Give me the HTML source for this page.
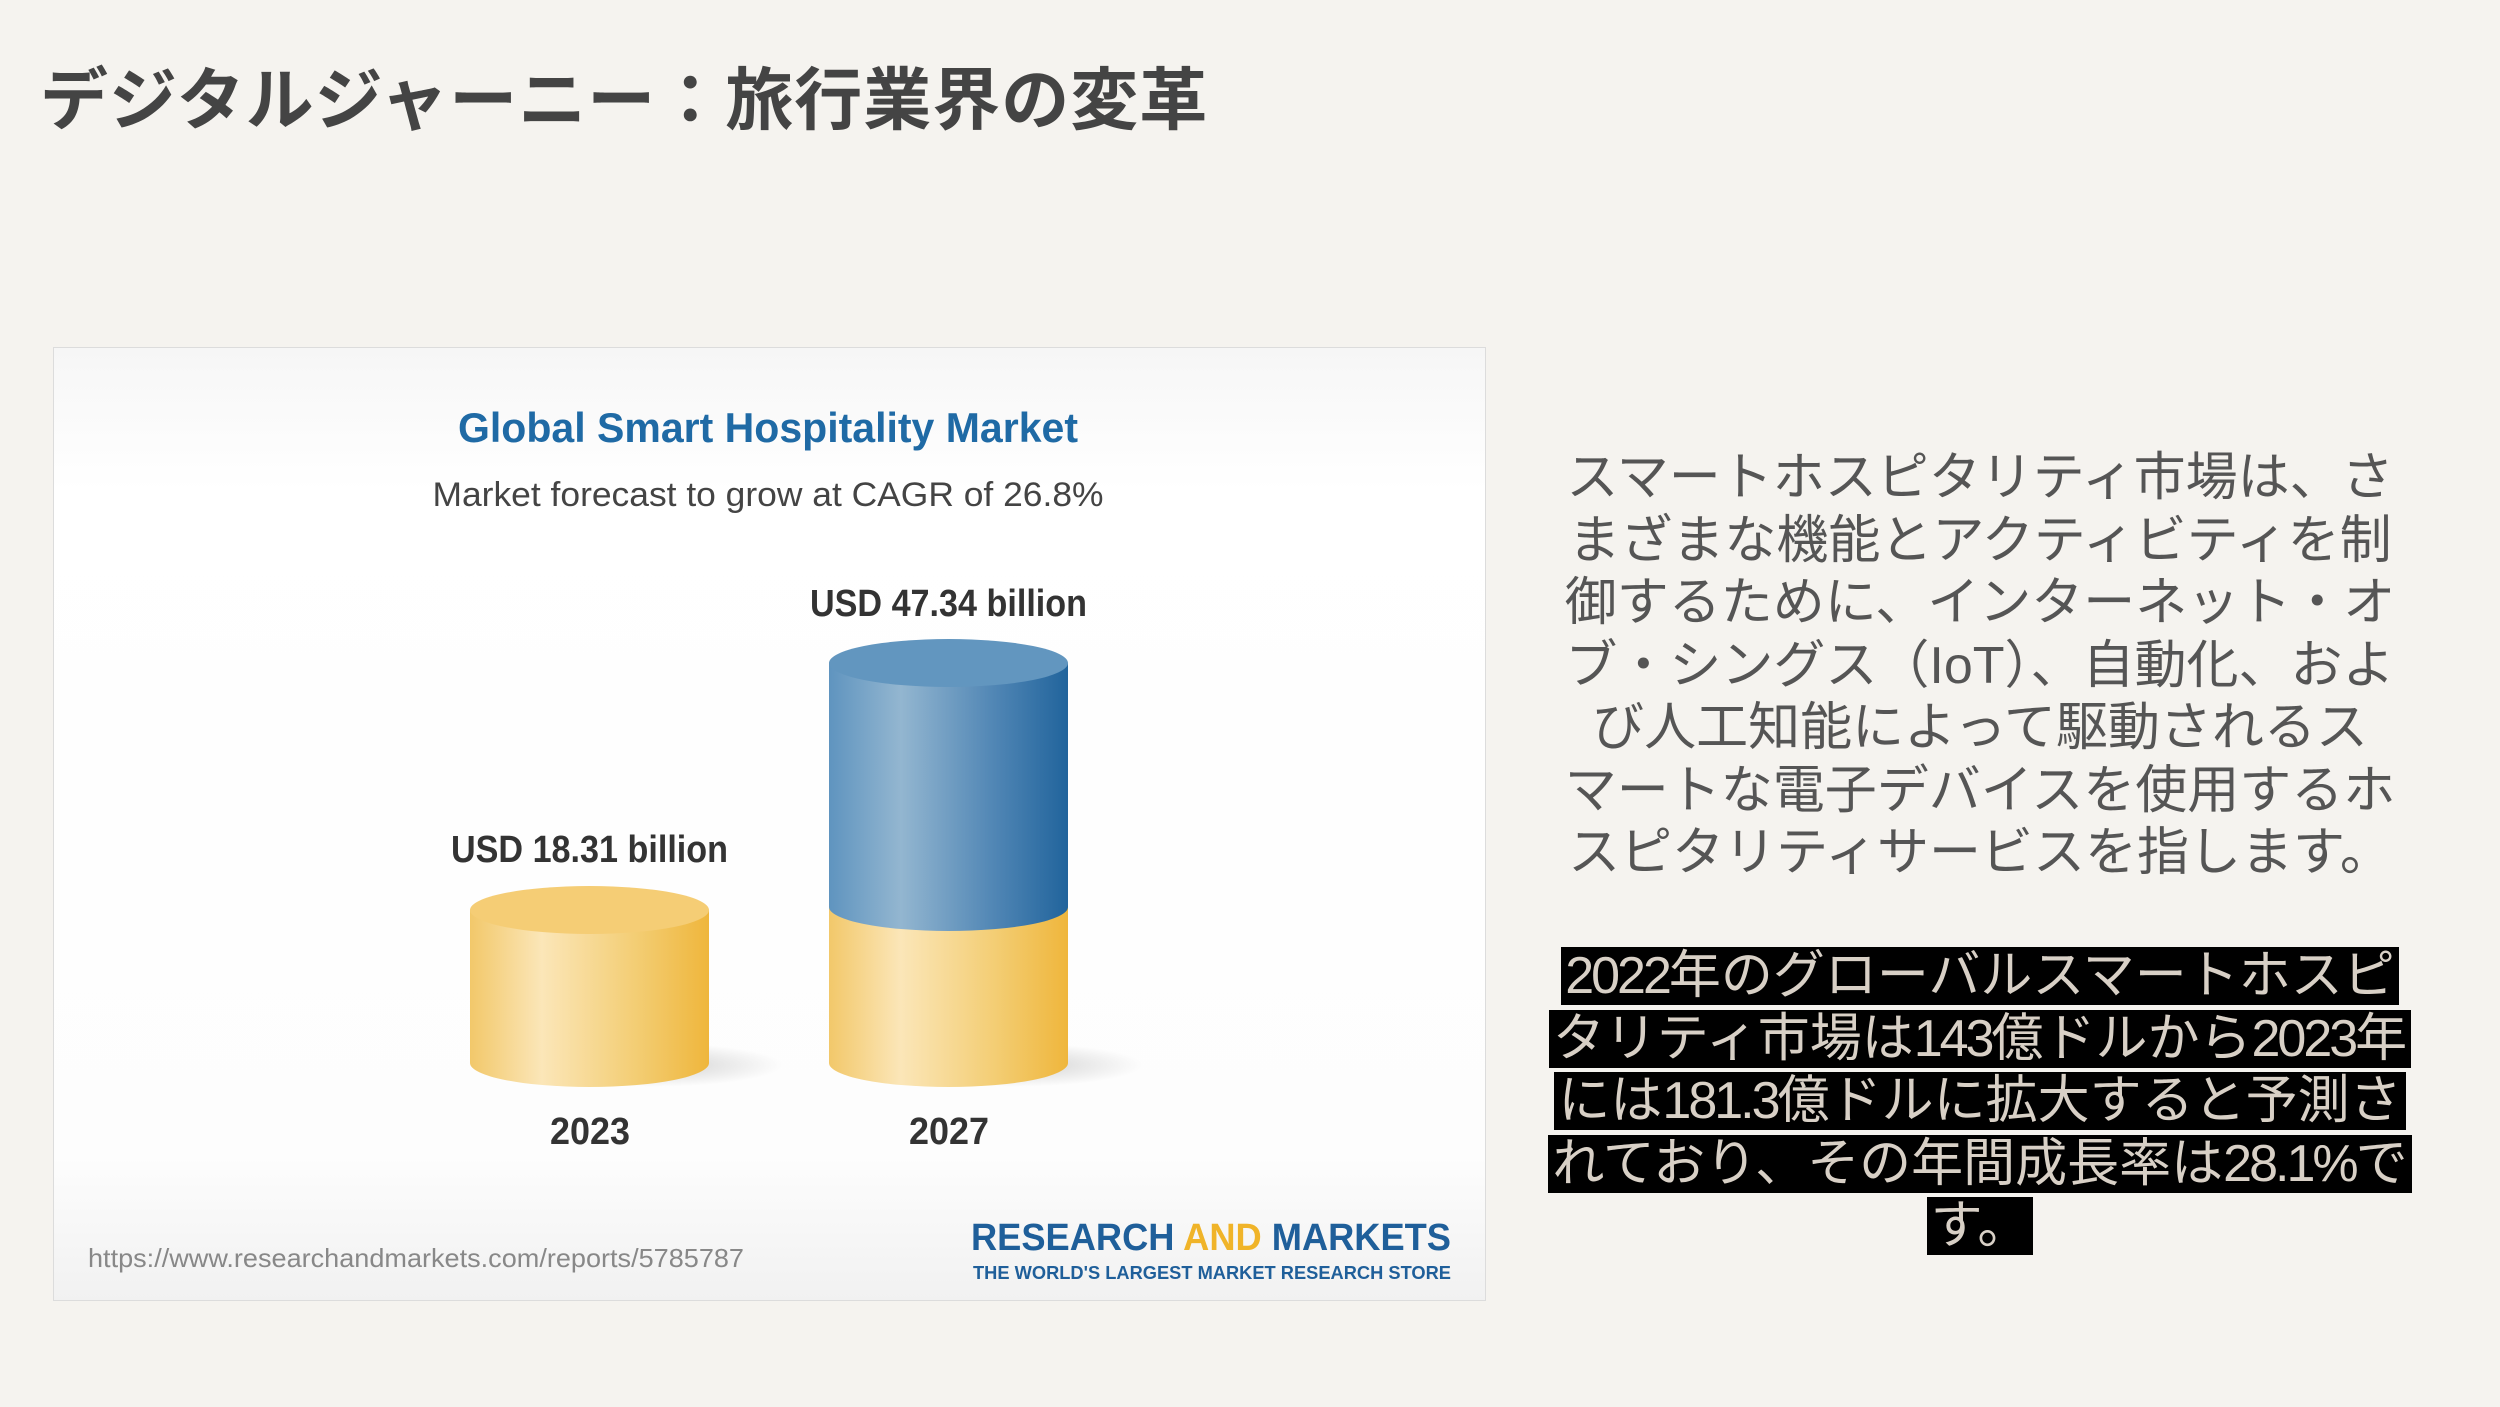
<!DOCTYPE html>
<html><head><meta charset="utf-8">
<style>
html,body{margin:0;padding:0}
body{width:2500px;height:1407px;background:#f5f3ef;position:relative;overflow:hidden;font-family:"Liberation Sans","Noto Sans CJK JP",sans-serif}
.title{position:absolute;left:40px;top:58px;font-size:68px;font-weight:bold;color:#444;white-space:nowrap;letter-spacing:1px;line-height:86px}
.chart{position:absolute;left:53px;top:347px;width:1433px;height:954px}
.p1{position:absolute;left:1520px;top:447px;width:920px;text-align:center;font-size:52px;line-height:62.5px;color:#555;white-space:nowrap}
.p2{position:absolute;left:1520px;top:945px;width:920px;text-align:center;font-size:52px;line-height:62.5px;color:#d8d0c6;white-space:nowrap}
.p2 span{background:#000;padding:0 4px}
.p2 .n{letter-spacing:-3px}
</style></head><body>
<div class="title">デジタルジャーニー：旅行業界の変革</div>
<svg class="chart" width="1433" height="954" viewBox="0 0 1433 954" xmlns="http://www.w3.org/2000/svg">
<defs>
<linearGradient id="bg" x1="0" y1="0" x2="0" y2="1"><stop offset="0" stop-color="#f6f6f6"/><stop offset="0.15" stop-color="#fff"/><stop offset="0.85" stop-color="#fdfdfd"/><stop offset="1" stop-color="#f1f1f1"/></linearGradient>
<linearGradient id="yel" x1="0" y1="0" x2="1" y2="0"><stop offset="0" stop-color="#f2c86a"/><stop offset="0.3" stop-color="#fbe6b8"/><stop offset="0.7" stop-color="#f3cd73"/><stop offset="1" stop-color="#efb63c"/></linearGradient>
<linearGradient id="blu" x1="0" y1="0" x2="1" y2="0"><stop offset="0" stop-color="#5f94bf"/><stop offset="0.3" stop-color="#93b6d0"/><stop offset="0.7" stop-color="#4f85b4"/><stop offset="1" stop-color="#21649c"/></linearGradient>
<radialGradient id="sh"><stop offset="0" stop-color="#000" stop-opacity="0.18"/><stop offset="1" stop-color="#000" stop-opacity="0"/></radialGradient>
</defs>
<rect x="0.5" y="0.5" width="1432" height="953" fill="url(#bg)" stroke="#dcdcdc"/>
<text x="715" y="95" text-anchor="middle" font-size="42" font-weight="bold" fill="#1f6aa5" textLength="620" lengthAdjust="spacingAndGlyphs">Global Smart Hospitality Market</text>
<text x="715" y="159" text-anchor="middle" font-size="34" fill="#444" textLength="671" lengthAdjust="spacingAndGlyphs">Market forecast to grow at CAGR of 26.8%</text>
<text x="398" y="515" font-size="38" font-weight="bold" fill="#333" textLength="277" lengthAdjust="spacingAndGlyphs">USD 18.31 billion</text>
<text x="757" y="269" font-size="38" font-weight="bold" fill="#333" textLength="277" lengthAdjust="spacingAndGlyphs">USD 47.34 billion</text>
<ellipse cx="600" cy="718" rx="130" ry="22" fill="url(#sh)"/>
<ellipse cx="960" cy="718" rx="130" ry="22" fill="url(#sh)"/>
<path d="M417 563 L417 716 A119.5 24 0 0 0 656 716 L656 563 Z" fill="url(#yel)"/>
<ellipse cx="536.5" cy="563" rx="119.5" ry="24" fill="#f5cd75"/>
<path d="M776 560 L776 716 A119.5 24 0 0 0 1015 716 L1015 560 Z" fill="url(#yel)"/>
<path d="M776 316 L776 560 A119.5 24 0 0 0 1015 560 L1015 316 Z" fill="url(#blu)"/>
<ellipse cx="895.5" cy="316" rx="119.5" ry="24" fill="#6296bf"/>
<text x="497" y="797" font-size="38" font-weight="bold" fill="#333" textLength="80" lengthAdjust="spacingAndGlyphs">2023</text>
<text x="856" y="797" font-size="38" font-weight="bold" fill="#333" textLength="80" lengthAdjust="spacingAndGlyphs">2027</text>
<text x="35" y="920" font-size="26" fill="#888" textLength="656" lengthAdjust="spacingAndGlyphs">https://www.researchandmarkets.com/reports/5785787</text>
<text x="918" y="903" font-size="38" font-weight="bold" fill="#1f5f9a" textLength="480" lengthAdjust="spacingAndGlyphs">RESEARCH <tspan fill="#f0b429">AND</tspan> MARKETS</text>
<text x="920" y="932" font-size="18" font-weight="bold" fill="#1f5f9a" textLength="478" lengthAdjust="spacingAndGlyphs">THE WORLD'S LARGEST MARKET RESEARCH STORE</text>
</svg>
<div class="p1">スマートホスピタリティ市場は、さ<br>まざまな機能とアクティビティを制<br>御するために、インターネット・オ<br>ブ・シングス（IoT）、自動化、およ<br>び人工知能によって駆動されるス<br>マートな電子デバイスを使用するホ<br>スピタリティサービスを指します。</div>
<div class="p2"><span><i class="n" style="font-style:normal">2022</i>年のグローバルスマートホスピ</span><br><span>タリティ市場は<i class="n" style="font-style:normal">143</i>億ドルから<i class="n" style="font-style:normal">2023</i>年</span><br><span>には<i class="n" style="font-style:normal">181.3</i>億ドルに拡大すると予測さ</span><br><span>れており、その年間成長率は<i class="n" style="font-style:normal">28.1%</i>で</span><br><span>す。</span></div>
</body></html>
